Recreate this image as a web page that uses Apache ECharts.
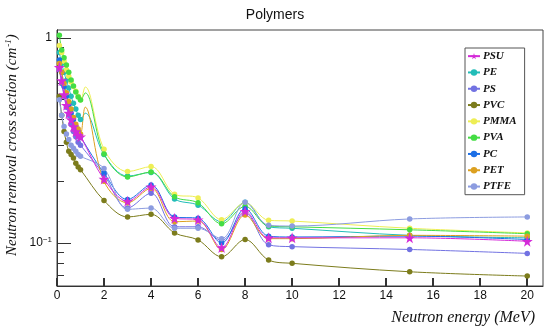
<!DOCTYPE html>
<html><head><meta charset="utf-8">
<script src="https://cdn.jsdelivr.net/npm/echarts@6/dist/echarts.min.js"></script>
<style>html,body{margin:0;padding:0;background:#fff}#c{width:550px;height:330px}</style>
</head><body><div id="c"></div>
<script>
// Neutron energy (MeV); 1.2 is a marker-less point of the smoothed curve hump
const energies = [0.1,0.2,0.3,0.4,0.5,0.6,0.7,0.8,0.9,1.0,1.2,2,3,4,5,6,7,8,9,10,15,20];
const hiddenMarkerEnergy = 1.2;
const seriesNames = ['PSU','PE','PS','PVC','PMMA','PVA','PC','PET','PTFE'];
const PSU  = [0.72,0.62,0.53,0.47,0.43,0.40,0.37,0.35,0.335,0.33,null,0.205,0.160,0.188,0.132,0.130,0.095,0.143,0.106,0.106,0.106,0.102];
const PE   = [0.85,0.75,0.68,0.62,0.57,0.52,0.48,0.45,0.42,0.40,0.43,0.270,0.212,0.221,0.164,0.153,0.127,0.158,0.120,0.118,0.109,0.106];
const PS   = [0.70,0.60,0.52,0.46,0.42,0.38,0.35,0.33,0.31,0.30,null,0.215,0.148,0.175,0.120,0.120,0.103,0.140,0.098,0.096,0.093,0.089];
const PVC  = [0.52,0.42,0.35,0.31,0.28,0.27,0.26,0.245,0.235,0.228,null,0.161,0.134,0.138,0.112,0.1035,0.0857,0.104,0.0826,0.0796,0.0724,0.069];
const PMMA = [0.92,0.85,0.77,0.70,0.65,0.61,0.58,0.55,0.52,0.50,0.577,0.287,0.223,0.236,0.173,0.166,0.130,0.157,0.129,0.128,0.118,0.112];
const PVA  = [1.03,0.874,0.80,0.738,0.68,0.624,0.583,0.545,0.515,0.498,0.54,0.272,0.210,0.222,0.168,0.157,0.124,0.151,0.121,0.120,0.116,0.111];
const PC   = [0.78,0.68,0.58,0.52,0.47,0.43,0.40,0.37,0.35,0.33,null,0.219,0.163,0.192,0.134,0.132,0.100,0.147,0.108,0.107,0.108,0.104];
const PET  = [0.75,0.68,0.60,0.54,0.49,0.45,0.41,0.38,0.36,0.34,0.46,0.200,0.157,0.185,0.127,0.128,0.093,0.137,0.105,0.105,0.109,0.108];
const PTFE = [0.50,0.42,0.37,0.34,0.32,0.30,0.29,0.28,0.27,0.265,null,0.231,0.146,0.148,0.118,0.118,0.105,0.158,0.122,0.121,0.131,0.134];
const xTickLabels = [0,2,4,6,8,10,12,14,16,18,20];
const yLabelValues = [0.1, 1];
const yMinorTicks = [0.07,0.08,0.09,0.2,0.3,0.4,0.5,0.6,0.7,0.8,0.9];

const values = {PSU, PE, PS, PVC, PMMA, PVA, PC, PET, PTFE};
const colors = {PSU:'#d42ad8', PE:'#22bdb8', PS:'#7272e2', PVC:'#7c7c1c', PMMA:'#eeee55', PVA:'#44dd44', PC:'#1c6fe6', PET:'#dca020', PTFE:'#8c9ce0'};
const star = 'path://M50,0 L61,35 L98,35 L68,57 L79,91 L50,70 L21,91 L32,57 L2,35 L39,35 Z';

const series = seriesNames.map(name => ({
  name, type:'line', smooth:0.35, z: name==='PSU' ? 5 : 3,
  symbol: name==='PSU' ? star : 'circle',
  symbolSize: name==='PSU' ? 11 : 5.5,
  showSymbol:true,
  itemStyle:{color:colors[name]},
  lineStyle:{color:colors[name], width:1},
  emphasis:{disabled:true},
  data: energies.map((e,i)=> values[name][i]==null ? null :
        (e===hiddenMarkerEnergy ? {value:[e, values[name][i]], symbolSize:0} : [e, values[name][i]])).filter(d=>d!==null)
}));

const chart = echarts.init(document.getElementById('c'), null, {renderer:'canvas'});
const yBase = {type:'log', min:0.0617, max:1.094, position:'left',
  axisLine:{show:true, onZero:false, lineStyle:{color:'#333'}}, splitLine:{show:false}};
chart.setOption({
  animation:false,
  title:{text:'Polymers', left:'center', top:3, textStyle:{fontFamily:'Liberation Sans', fontSize:14, fontWeight:'normal', color:'#111'}},
  grid:{left:57, right:7, top:30, bottom:44, show:true, borderColor:'#444', borderWidth:1, backgroundColor:'transparent'},
  xAxis:{type:'value', min:0, max:20.67, position:'bottom',
      axisLine:{show:true, onZero:false, lineStyle:{color:'#333'}}, splitLine:{show:false},
      axisTick:{show:true, inside:true, length:8, customValues:xTickLabels, lineStyle:{color:'#333', width:2}},
      axisLabel:{customValues:xTickLabels, margin:4, fontFamily:'Liberation Sans', fontSize:12, color:'#111'}},
  yAxis:[
    Object.assign({}, yBase, {
      axisTick:{inside:true, length:14, customValues:yLabelValues, lineStyle:{color:'#333'}},
      axisLabel:{customValues:yLabelValues, margin:5, fontFamily:'Liberation Sans', fontSize:12, color:'#111',
        formatter:v => v>0.5 ? '1' : '10{s|−1}',
        rich:{s:{fontSize:8, verticalAlign:'top', padding:[0,0,6,0], fontFamily:'Liberation Sans', color:'#111'}}}}),
    Object.assign({}, yBase, {
      axisTick:{inside:true, length:7, customValues:yMinorTicks, lineStyle:{color:'#333'}},
      axisLabel:{show:false}})
  ],
  legend:{orient:'vertical', left:465, top:48, width:71,
    backgroundColor:'#fff', borderColor:'#555', borderWidth:1, padding:[1,8,1,2],
    itemWidth:12, itemHeight:8, itemGap:2, data:seriesNames,
    textStyle:{fontFamily:'Liberation Serif', fontStyle:'italic', fontWeight:'bold', fontSize:11, color:'#111', lineHeight:14.3, padding:[0,0,0,-2]}},
  graphic:[
    {type:'text', right:15, top:310,
      style:{text:'Neutron energy (MeV)', font:'italic 16px "Liberation Serif"', fill:'#111'}},
    {type:'text', x:4, y:256, rotation:Math.PI/2, originX:0, originY:0,
      style:{text:'Neutron removal cross section (cm{s|-1})', font:'italic 15px "Liberation Serif"', fill:'#111',
        rich:{s:{font:'italic 9px "Liberation Serif"', fill:'#111', verticalAlign:'top', padding:[0,0,8,1]}}}}
  ],
  series
});
</script></body></html>
